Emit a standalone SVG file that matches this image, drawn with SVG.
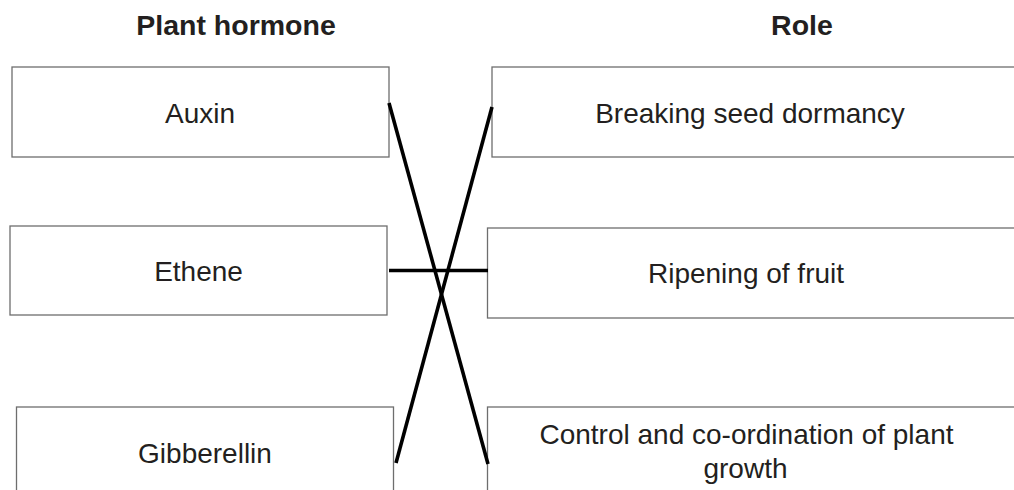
<svg xmlns="http://www.w3.org/2000/svg" width="1014" height="490" viewBox="0 0 1014 490">
<style>
.box{fill:#fff;stroke:#6e6e6e;stroke-width:1.3}
.t{font-family:"Liberation Sans",Arial,sans-serif;font-size:28px;fill:#231f20;text-anchor:middle}
.h{font-family:"Liberation Sans",Arial,sans-serif;font-size:28.5px;font-weight:bold;fill:#231f20;text-anchor:middle}
.c{stroke:#000;stroke-width:3.6;fill:none;stroke-linecap:butt}
</style>
<rect width="1014" height="490" fill="#fff"/>
<g id="headers">
<text class="h" x="236" y="35">Plant hormone</text>
<text class="h" x="802" y="35">Role</text>
</g>
<g id="node-auxin">
<rect class="box" x="12" y="67" width="377" height="90"/>
<text class="t" x="200" y="123">Auxin</text>
</g>
<g id="node-ethene">
<rect class="box" x="10" y="226" width="377" height="89"/>
<text class="t" x="198.5" y="281">Ethene</text>
</g>
<g id="node-gibberellin">
<rect class="box" x="16.5" y="407" width="377" height="100"/>
<text class="t" x="205" y="463">Gibberellin</text>
</g>
<g id="node-breaking">
<rect class="box" x="492" y="67" width="540" height="90"/>
<text class="t" x="750" y="123">Breaking seed dormancy</text>
</g>
<g id="node-ripening">
<rect class="box" x="487.5" y="228" width="540" height="90"/>
<text class="t" x="746" y="283">Ripening of fruit</text>
</g>
<g id="node-control">
<rect class="box" x="487.5" y="407" width="540" height="100"/>
<text class="t" x="746.5" y="444">Control and co-ordination of plant</text>
<text class="t" x="745.5" y="478">growth</text>
</g>
<g id="connectors">
<line class="c" x1="389" y1="103" x2="488" y2="464"/>
<line class="c" x1="492" y1="107" x2="396" y2="463"/>
<line class="c" x1="389" y1="270.5" x2="488" y2="270.5"/>
</g>
</svg>
